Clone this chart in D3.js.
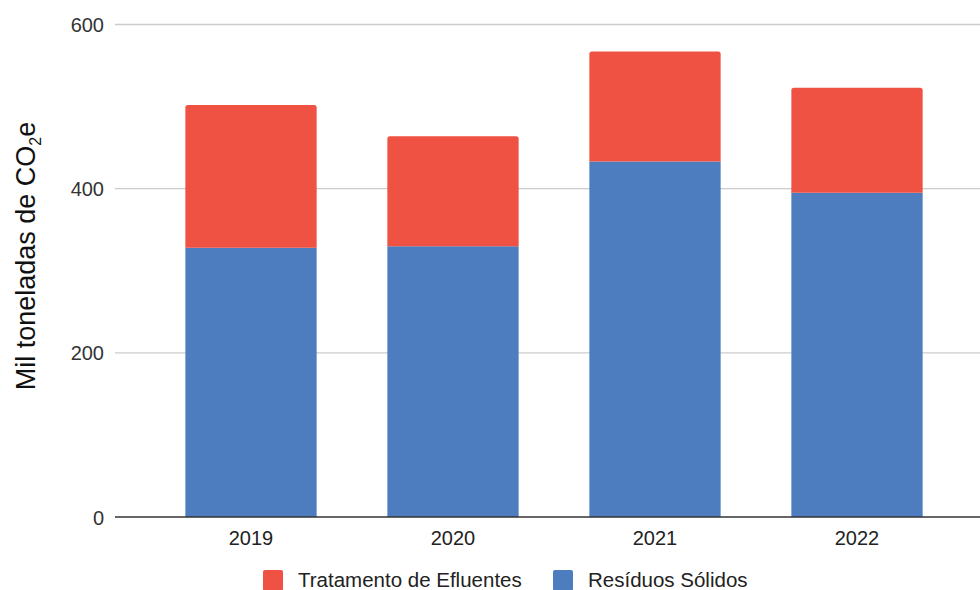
<!DOCTYPE html>
<html>
<head>
<meta charset="utf-8">
<script src="https://cdn.jsdelivr.net/npm/d3@7/dist/d3.min.js"></script>
<style>
  html, body { margin: 0; padding: 0; background: #fff; }
  svg { display: block; font-family: "Liberation Sans", Arial, sans-serif; }
</style>
</head>
<body>
<svg id="chart" width="980" height="590"></svg>
<script>
// Emissions by year, thousand tonnes CO2e
const years = ["2019", "2020", "2021", "2022"];
const residuosSolidos = [328, 330, 433, 395];
const tratamentoEfluentes = [174, 134, 134, 128];
const yTicks = [0, 200, 400, 600];
const seriesNames = ["Tratamento de Efluentes", "Resíduos Sólidos"];
const seriesColors = ["#EF5142", "#4D7DBF"];

const svg = d3.select("#chart");

const x = d3.scaleBand()
  .domain(years)
  .range([150, 958])
  .paddingInner(0.35)
  .paddingOuter(0.175);

const y = d3.scaleLinear()
  .domain([0, 600])
  .range([517, 24.5]);

// Gridlines
svg.append("g")
  .selectAll("line")
  .data(yTicks.filter(d => d !== 0))
  .join("line")
  .attr("x1", 115).attr("x2", 980)
  .attr("y1", d => y(d)).attr("y2", d => y(d))
  .attr("stroke", "#cccccc")
  .attr("stroke-width", 1.3);

// Y tick labels
const yAxis = d3.axisLeft(y).tickValues(yTicks).tickSize(0).tickPadding(0);
const gy = svg.append("g").attr("transform", "translate(104,0)").call(yAxis);
gy.select(".domain").remove();
gy.selectAll("text")
  .attr("font-size", 20)
  .attr("fill", "#333")
  .attr("font-family", "Liberation Sans, Arial, sans-serif")
  .attr("dy", "0.35em");

// Stacked data
const rows = years.map((yr, i) => ({
  year: yr,
  "Resíduos Sólidos": residuosSolidos[i],
  "Tratamento de Efluentes": tratamentoEfluentes[i]
}));
const stack = d3.stack().keys(["Resíduos Sólidos", "Tratamento de Efluentes"]);
const layers = stack(rows);
const colorOf = d3.scaleOrdinal().domain(seriesNames).range(seriesColors);

layers.forEach(layer => {
  const isTop = layer.key === "Tratamento de Efluentes";
  svg.append("g")
    .selectAll("path")
    .data(layer)
    .join("path")
    .attr("fill", colorOf(layer.key))
    .attr("d", d => {
      const x0 = x(d.data.year), w = x.bandwidth();
      const yt = y(d[1]), yb = y(d[0]);
      const r = isTop ? 2.5 : 0;
      return `M${x0},${yb} L${x0},${yt + r} Q${x0},${yt} ${x0 + r},${yt} ` +
             `L${x0 + w - r},${yt} Q${x0 + w},${yt} ${x0 + w},${yt + r} L${x0 + w},${yb} Z`;
    });
});

// Baseline
svg.append("line")
  .attr("x1", 115).attr("x2", 980)
  .attr("y1", y(0)).attr("y2", y(0))
  .attr("stroke", "#333").attr("stroke-width", 1.5);

// X axis labels
const xAxis = d3.axisBottom(x).tickSize(0).tickPadding(0);
const gx = svg.append("g").attr("transform", "translate(0,537.5)").call(xAxis);
gx.select(".domain").remove();
gx.selectAll("text")
  .attr("font-size", 20)
  .attr("fill", "#222")
  .attr("font-family", "Liberation Sans, Arial, sans-serif")
  .attr("dy", "0.35em");

// Y axis title
const title = svg.append("text")
  .attr("transform", "translate(35,256) rotate(-90)")
  .attr("text-anchor", "middle")
  .attr("font-size", 27)
  .attr("fill", "#111");
title.append("tspan").text("Mil toneladas de CO");
title.append("tspan").text("2").attr("font-size", 16).attr("dy", 6);
title.append("tspan").text("e").attr("dy", -6);

// Legend
const legendItems = [
  { name: seriesNames[0], color: seriesColors[0], x: 263 },
  { name: seriesNames[1], color: seriesColors[1], x: 553 }
];
const lg = svg.append("g").selectAll("g").data(legendItems).join("g")
  .attr("transform", d => `translate(${d.x},570)`);
lg.append("rect")
  .attr("width", 20).attr("height", 21).attr("rx", 2)
  .attr("fill", d => d.color);
lg.append("text")
  .attr("x", 35).attr("y", 10).attr("dy", "0.35em")
  .attr("font-size", 20.5).attr("fill", "#222")
  .text(d => d.name);
</script>
</body>
</html>
